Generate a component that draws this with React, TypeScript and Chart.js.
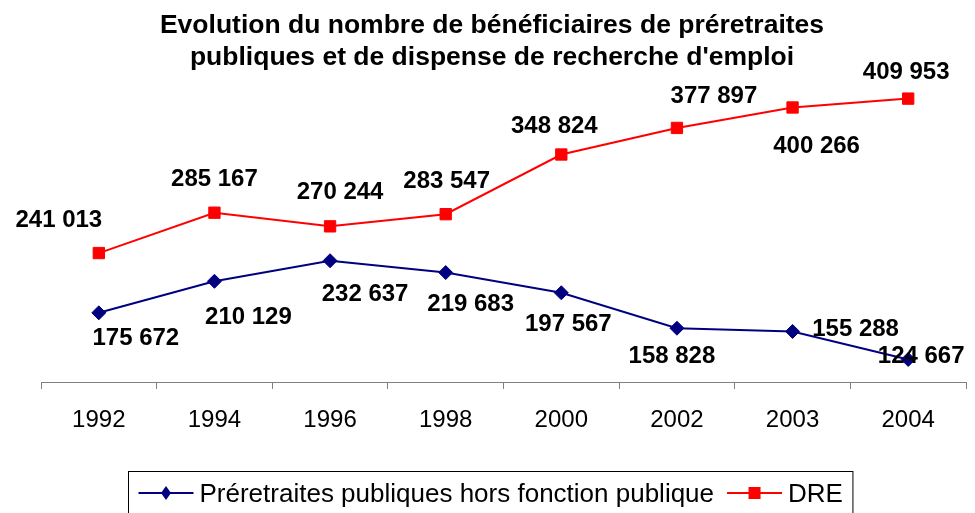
import React, { useEffect, useRef } from "react";
import { Chart, registerables } from "chart.js";

Chart.register(...registerables);

const titleLines = [
  "Evolution du nombre de bénéficiaires de préretraites",
  "publiques et de dispense de recherche d'emploi",
];
const categories = ["1992", "1994", "1996", "1998", "2000", "2002", "2003", "2004"];
const seriesNames = ["Préretraites publiques hors fonction publique", "DRE"];
const preretraites = [175672, 210129, 232637, 219683, 197567, 158828, 155288, 124667];
const dre = [241013, 285167, 270244, 283547, 348824, 377897, 400266, 409953];

// label placement offsets (pixels, relative to the point)
const blueLabelDx = [37, 34, 35, 25, 7, -5, 63, 13];
const blueLabelDy = [26, 36, 34, 32, 32, 28, -2, -3];
const redLabelDx = [-40, 0, 10, 1, -7, 37, 24, -2];
const redLabelDy = [-33, -33, -34, -33, -28, -32, 39, -26];

const FONT = '"Liberation Sans", Arial, sans-serif';
const BLUE = "#000080";
const RED = "#FF0000";

function fmt(v: number): string {
  return String(v).replace(/\B(?=(\d{3})+(?!\d))/g, " ");
}

const overlayPlugin = {
  id: "overlay",
  afterDraw(chart: any) {
    const ctx = chart.ctx as CanvasRenderingContext2D;
    ctx.save();
    // title
    ctx.fillStyle = "#000";
    ctx.font = `bold 26.5px ${FONT}`;
    ctx.textAlign = "center";
    ctx.textBaseline = "alphabetic";
    ctx.fillText(titleLines[0], 492, 33);
    ctx.fillText(titleLines[1], 492, 65);

    // data labels
    ctx.font = `bold 24px ${FONT}`;
    ctx.textBaseline = "middle";
    const offs = [
      [blueLabelDx, blueLabelDy],
      [redLabelDx, redLabelDy],
    ];
    chart.data.datasets.forEach((ds: any, di: number) => {
      const meta = chart.getDatasetMeta(di);
      meta.data.forEach((pt: any, i: number) => {
        ctx.fillText(fmt(ds.data[i]), pt.x + offs[di][0][i], pt.y + offs[di][1][i]);
      });
    });

    // legend
    ctx.font = `26px ${FONT}`;
    ctx.textAlign = "left";
    ctx.textBaseline = "alphabetic";
    const lineW = 55;
    const gapText = 6;
    const gapItem = 13;
    const padX = 10;
    const widths = chart.data.datasets.map((ds: any) => ctx.measureText(ds.label).width);
    let total = padX * 2;
    widths.forEach((w: number, i: number) => {
      total += lineW + gapText + w + (i < widths.length - 1 ? gapItem : 0);
    });
    const cx = 490;
    const boxL = Math.round(cx - total / 2) + 0.5;
    ctx.strokeStyle = "#000";
    ctx.lineWidth = 1;
    ctx.strokeRect(boxL, 471.5, total, 80);
    let x = boxL + padX;
    const ly = 493;
    chart.data.datasets.forEach((ds: any, i: number) => {
      ctx.strokeStyle = ds.borderColor;
      ctx.lineWidth = 2;
      ctx.beginPath();
      ctx.moveTo(x, ly);
      ctx.lineTo(x + lineW, ly);
      ctx.stroke();
      ctx.fillStyle = ds.borderColor;
      const mx = x + lineW / 2;
      if (ds.pointStyle === "rectRot") {
        ctx.beginPath();
        ctx.moveTo(mx, ly - 7);
        ctx.lineTo(mx + 5, ly);
        ctx.lineTo(mx, ly + 7);
        ctx.lineTo(mx - 5, ly);
        ctx.closePath();
        ctx.fill();
      } else {
        ctx.fillRect(mx - 6, ly - 6, 12, 12);
      }
      ctx.fillStyle = "#000";
      ctx.fillText(ds.label, x + lineW + gapText, 502);
      x += lineW + gapText + widths[i] + gapItem;
    });
    ctx.restore();
  },
};

export default function App() {
  const ref = useRef<HTMLCanvasElement | null>(null);
  useEffect(() => {
    document.body.style.margin = "0";
    if (!ref.current) return;
    const chart = new Chart(ref.current, {
      type: "line",
      data: {
        labels: categories,
        datasets: [
          {
            label: seriesNames[0],
            data: preretraites,
            borderColor: BLUE,
            backgroundColor: BLUE,
            borderWidth: 2,
            pointStyle: "rectRot",
            pointRadius: 7,
            pointBorderWidth: 1,
            tension: 0,
          },
          {
            label: seriesNames[1],
            data: dre,
            borderColor: RED,
            backgroundColor: RED,
            borderWidth: 2,
            pointStyle: "rect",
            pointRadius: 8,
            pointBorderWidth: 1,
            tension: 0,
          },
        ],
      },
      options: {
        animation: false,
        responsive: false,
        devicePixelRatio: 1,
        layout: { padding: { left: 41, right: 8, top: 62, bottom: 0 } },
        plugins: {
          legend: { display: false },
          title: { display: false },
          tooltip: { enabled: false },
        },
        scales: {
          x: {
            offset: true,
            grid: {
              display: true,
              drawOnChartArea: false,
              drawTicks: true,
              tickLength: 7,
              color: "#808080",
              offset: true,
            },
            border: { display: true, color: "#808080", width: 1 },
            ticks: {
              color: "#000",
              font: { family: FONT, size: 24 },
              padding: 17,
              maxRotation: 0,
              autoSkip: false,
            },
            afterFit: (s: any) => {
              s.height = 131;
            },
          },
          y: {
            display: false,
            min: 100000,
            max: 450000,
          },
        },
      },
      plugins: [overlayPlugin],
    });
    return () => chart.destroy();
  }, []);
  return <canvas ref={ref} width={975} height={513} style={{ display: "block" }} />;
}
